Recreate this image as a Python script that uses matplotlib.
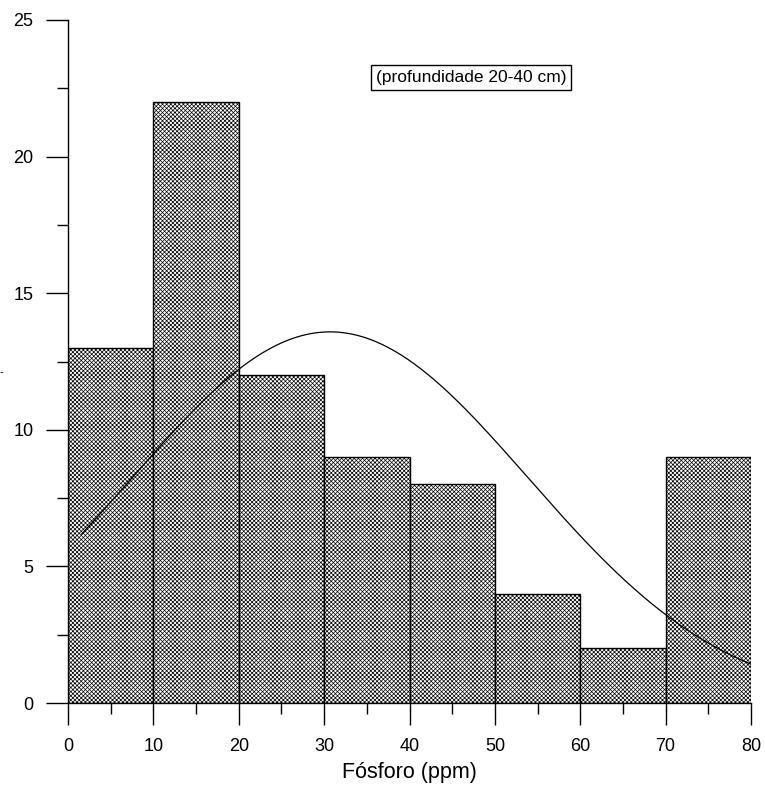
import matplotlib
matplotlib.use("Agg")
import matplotlib.pyplot as plt
import numpy as np
from matplotlib.ticker import MultipleLocator

plt.rcParams['font.family'] = ['Liberation Sans', 'DejaVu Sans']
plt.rcParams['hatch.linewidth'] = 0.5
plt.rcParams['hatch.color'] = '#484848'

# histogram of phosphorus content
bin_edges = [0, 10, 20, 30, 40, 50, 60, 70, 80]
counts = [13, 22, 12, 9, 8, 4, 2, 9]

# fitted normal curve parameters
fit_mean = 30.7
fit_sd = 23.2
fit_xmin = 1.6
fit_xmax = 80

n_total = sum(counts)
width = bin_edges[1] - bin_edges[0]

fig = plt.figure(figsize=(7.65, 7.88), dpi=100)
ax = fig.add_axes([68/765, 1 - 703/788, 683/765, 683/788])

ax.bar(bin_edges[:-1], counts, width=width, align='edge',
       facecolor='white', edgecolor='black', linewidth=1.0, hatch='xxxxxxxx')

xs = np.linspace(fit_xmin, fit_xmax, 300)
pdf = np.exp(-0.5 * ((xs - fit_mean) / fit_sd) ** 2) / (fit_sd * np.sqrt(2 * np.pi))
ax.plot(xs, n_total * width * pdf, color='black', linewidth=0.9)

ax.set_xlim(0, 80)
ax.set_ylim(0, 25)
for s in ['top', 'right']:
    ax.spines[s].set_visible(False)
ax.spines['left'].set_linewidth(1.0)
ax.spines['bottom'].set_linewidth(1.0)

ax.xaxis.set_major_locator(MultipleLocator(10))
ax.xaxis.set_minor_locator(MultipleLocator(5))
ax.yaxis.set_major_locator(MultipleLocator(5))
ax.yaxis.set_minor_locator(MultipleLocator(2.5))
ax.tick_params(which='major', length=16, width=1.0, labelsize=13, pad=9)
ax.tick_params(which='minor', length=8, width=1.0)
ax.tick_params(axis='y', which='major', pad=9)

ax.set_xlabel('Fósforo (ppm)', fontsize=15.5, labelpad=5)

ax.text(47.2, 22.9, '(profundidade 20-40 cm)', fontsize=12.5, ha='center', va='center',
        bbox=dict(boxstyle='square,pad=0.3', facecolor='white', edgecolor='black', linewidth=1.0))

fig.text(0.0, 1 - 372/788, '-', fontsize=8, ha='left', va='center')

fig.savefig('out.png', dpi=100)
